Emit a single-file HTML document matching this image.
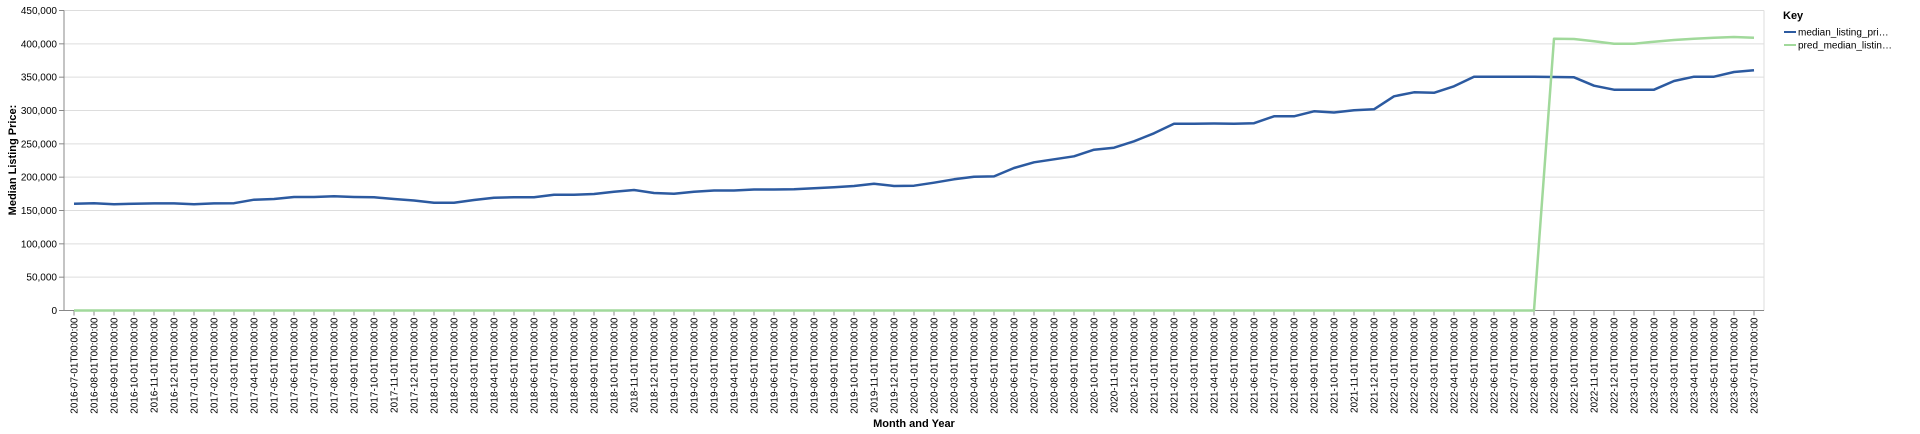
<!DOCTYPE html>
<html><head><meta charset="utf-8"><style>
html,body{margin:0;padding:0;background:#fff;}
svg{display:block;font-family:"Liberation Sans",Arial,sans-serif;}
</style></head><body>
<svg id="chart" width="1920" height="434" viewBox="0 0 1920 434" xmlns="http://www.w3.org/2000/svg">
<g id="grid"></g>
<g id="yaxis"></g>
<g id="xaxis"></g>
<g id="lines"></g>
<text transform="translate(16,160) rotate(-90)" text-anchor="middle" font-size="11" font-weight="bold" fill="#000">Median Listing Price:</text>
<text x="914" y="427" text-anchor="middle" font-size="11" font-weight="bold" fill="#000">Month and Year</text>
<g>
<text x="1783" y="19" font-size="11" font-weight="bold" fill="#000">Key</text>
<g>
<line x1="1784" y1="32" x2="1796" y2="32" stroke="#2c5aa0" stroke-width="2"/>
<text x="1798" y="35.5" font-size="10" fill="#000">median_listing_pri…</text></g>
<g>
<line x1="1784" y1="45" x2="1796" y2="45" stroke="#a1d99b" stroke-width="2"/>
<text x="1798" y="48.5" font-size="10" fill="#000">pred_median_listin…</text></g>
</g>
</svg>
<script>
const months = [];
for (let y = 2016, m = 7; !(y === 2023 && m === 8); ) {
  months.push(y + "-" + String(m).padStart(2, "0") + "-01T00:00:00");
  m++; if (m > 12) { m = 1; y++; }
}
const medianPrice = [160250,161000,159500,160250,160600,160600,159500,160600,161000,166250,167200,170250,170250,171250,170250,169800,167200,165000,161700,161700,165750,169200,170000,170000,173700,173700,174700,178200,180700,176200,175000,178200,180000,180000,181500,181500,181800,183250,184750,186750,190250,186750,187200,191750,196750,200750,201200,213750,222250,226750,231250,241250,244250,253750,265750,280250,280250,280500,280250,281000,291250,291250,298750,297000,300250,301750,321250,327250,326500,336250,350750,350750,350750,350750,350250,349750,337250,331250,331250,331250,344250,350750,350750,357750,360250];
const predPrice = [0,0,0,0,0,0,0,0,0,0,0,0,0,0,0,0,0,0,0,0,0,0,0,0,0,0,0,0,0,0,0,0,0,0,0,0,0,0,0,0,0,0,0,0,0,0,0,0,0,0,0,0,0,0,0,0,0,0,0,0,0,0,0,0,0,0,0,0,0,0,0,0,0,0,407750,407250,403750,400250,400250,403250,405750,407750,409250,410250,409250];
const yTicks = [0,50000,100000,150000,200000,250000,300000,350000,400000,450000];

const NS = "http://www.w3.org/2000/svg";
const L = 64, R = 1764, T = 10.5, B = 310.5, yMax = 450000;
const step = (R - L) / months.length;
const xs = i => L + step * (i + 0.5);
const ys = v => B - (v / yMax) * (B - T);
function mk(tag, attrs, parent) {
  const e = document.createElementNS(NS, tag);
  for (const k in attrs) e.setAttribute(k, attrs[k]);
  parent.appendChild(e); return e;
}
const grid = document.getElementById("grid"), yaxis = document.getElementById("yaxis"),
      xaxis = document.getElementById("xaxis"), lines = document.getElementById("lines");
yTicks.forEach(v => {
  const y = ys(v);
  const g = mk("line", {x1: L, x2: R, y1: y, y2: y, stroke: "#ddd", "stroke-width": 1}, grid);
  
  
  mk("line", {x1: L - 5, x2: L, y1: y, y2: y, stroke: "#888"}, yaxis);
  const t = mk("text", {x: L - 7, y: y + 3.5, "text-anchor": "end", "font-size": 10, fill: "#000"}, yaxis);
  t.textContent = v.toLocaleString("en-US");
  
  
});
mk("line", {x1: R, x2: R, y1: T, y2: B, stroke: "#ddd"}, grid);
mk("line", {x1: L, x2: L, y1: T, y2: B, stroke: "#888"}, yaxis);
mk("line", {x1: L, x2: R, y1: B, y2: B, stroke: "#888"}, xaxis);
months.forEach((m, i) => {
  const x = xs(i);
  mk("line", {x1: x, x2: x, y1: B, y2: B + 5, stroke: "#888"}, xaxis);
  const t = mk("text", {transform: `translate(${x + 3.5},${B + 7}) rotate(-90)`, "text-anchor": "end", "font-size": 10, fill: "#000"}, xaxis);
  t.textContent = m;
  
  
});
function drawLine(vals, color, name) {
  const d = vals.map((v, i) => (i ? "L" : "M") + xs(i).toFixed(1) + "," + ys(v).toFixed(1)).join("");
  const p = mk("path", {d: d, fill: "none", stroke: color, "stroke-width": 2.5, "stroke-linejoin": "round"}, lines);
  
  
}
drawLine(medianPrice, "#2c5aa0", "median-listing-price-line");
drawLine(predPrice, "#a1d99b", "pred-median-listing-price-line");
</script>
</body></html>
